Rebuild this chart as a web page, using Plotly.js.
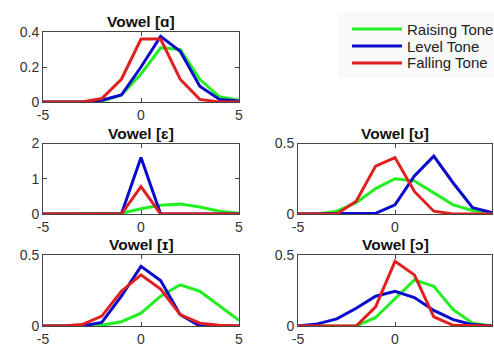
<!DOCTYPE html>
<html>
<head>
<meta charset="utf-8">
<script src="https://cdn.plot.ly/plotly-3.0.1.min.js"></script>
<style>html,body{margin:0;padding:0;background:#fff;}#chart{width:494px;height:348px;}</style>
</head>
<body>
<div id="chart"></div>
<script>
const xs = [-5,-4,-3,-2,-1,0,1,2,3,4,5];
const seriesNames = ["Raising Tone","Level Tone","Falling Tone"];
const seriesColors = ["#22ee22","#0a0acc","#e02020"];
const panelTitles = ["Vowel [ɑ]","Vowel [ɛ]","Vowel [ʊ]","Vowel [ɪ]","Vowel [ɔ]"];

// Vowel [ɑ]
const a_rise = [0,0,0,0.005,0.04,0.16,0.31,0.30,0.13,0.03,0.01];
const a_level = [0,0,0,0.01,0.04,0.20,0.375,0.29,0.09,0.015,0.005];
const a_fall = [0,0,0,0.02,0.13,0.36,0.36,0.13,0.015,0,0];
// Vowel [ɛ]
const e_rise = [0,0,0,0,0.02,0.15,0.25,0.28,0.2,0.08,0.02];
const e_level = [0,0,0,0,0,1.6,0,0,0,0,0];
const e_fall = [0,0,0,0,0,0.78,0,0,0,0,0];
// Vowel [ʊ]
const u_rise = [0,0,0.02,0.08,0.18,0.25,0.235,0.15,0.065,0.025,0.005];
const u_level = [0,0,0,0,0.005,0.065,0.27,0.41,0.22,0.045,0.01];
const u_fall = [0,0,0,0.09,0.34,0.40,0.16,0.02,0,0,0];
// Vowel [ɪ]
const i_rise = [0,0,0,0.005,0.03,0.09,0.21,0.29,0.245,0.14,0.04];
const i_level = [0,0,0,0.025,0.21,0.42,0.32,0.08,0,0,0];
const i_fall = [0,0,0.01,0.07,0.245,0.36,0.26,0.08,0.02,0.005,0];
// Vowel [ɔ]
const o_rise = [0,0,0,0,0.06,0.195,0.325,0.28,0.115,0.02,0];
const o_level = [0,0.015,0.05,0.125,0.21,0.245,0.2,0.11,0.045,0.01,0];
const o_fall = [0,0,0,0,0.135,0.455,0.36,0.065,0.005,0,0];

const panelData = [
  [a_rise,a_level,a_fall],
  [e_rise,e_level,e_fall],
  [u_rise,u_level,u_fall],
  [i_rise,i_level,i_fall],
  [o_rise,o_level,o_fall]
];
const yRanges = [[0,0.4],[0,2],[0,0.5],[0,0.5],[0,0.5]];
const yTicks = [[0,0.2,0.4],[0,1,2],[0,0.5],[0,0.5],[0,0.5]];
const xTicks = [-5,0,5];

const W=494,H=348;
// pixel boxes [left,right,top,bottom]
const boxes = [
  [43,239,32,102],
  [43,239,143.5,214],
  [298,492,143.5,214],
  [43,239,255,326],
  [298,492,255,326]
];

const traces=[];
const layout={
  width:W,height:H,
  margin:{l:0,r:0,t:0,b:0},
  paper_bgcolor:'#fff',plot_bgcolor:'#fff',
  font:{family:'"Liberation Sans", Arial, sans-serif',size:14,color:'#333'},
  showlegend:false,
  annotations:[],
  shapes:[]
};
panelData.forEach((ser,p)=>{
  const n=p+1;
  const sfx = n===1?'':String(n);
  const b=boxes[p];
  ser.forEach((ys,s)=>{
    traces.push({x:xs,y:ys,type:'scatter',mode:'lines',
      xaxis:'x'+sfx,yaxis:'y'+sfx,
      name:seriesNames[s],
      line:{color:seriesColors[s],width:3}});
  });
  layout['xaxis'+sfx]={domain:[b[0]/W,b[1]/W],range:[-5,5],tickvals:xTicks,ticktext:xTicks.map(String),
    showgrid:false,zeroline:false,showline:true,mirror:'ticks',linecolor:'#444',linewidth:1,
    ticks:'inside',ticklen:4,tickcolor:'#444',anchor:'y'+sfx,
    tickfont:{size:14,color:'#333'}};
  layout['yaxis'+sfx]={domain:[1-b[3]/H,1-b[2]/H],range:yRanges[p],tickvals:yTicks[p],ticktext:yTicks[p].map(String),
    showgrid:false,zeroline:false,showline:true,mirror:'ticks',linecolor:'#444',linewidth:1,
    ticks:'inside',ticklen:4,tickcolor:'#444',anchor:'x'+sfx,
    tickfont:{size:14,color:'#333'}};
  layout.annotations.push({text:'<b>'+panelTitles[p]+'</b>',xref:'paper',yref:'paper',
    x:(b[0]+b[1])/2/W,y:1-(b[2]-1)/H,xanchor:'center',yanchor:'bottom',showarrow:false,
    borderpad:0,font:{size:15.5,color:'#111'}});
});

// custom legend (box, line samples, labels)
const lg = {left:338,right:494,top:12,bottom:78,lineX0:352,lineX1:402,textX:406,rows:[29,46,63]};
layout.shapes.push({type:'rect',xref:'paper',yref:'paper',
  x0:lg.left/W,x1:lg.right/W,y0:1-lg.bottom/H,y1:1-lg.top/H,
  fillcolor:'#f9f9f9',line:{width:0},layer:'below'});
seriesNames.forEach((nm,s)=>{
  const yy=1-lg.rows[s]/H;
  layout.shapes.push({type:'line',xref:'paper',yref:'paper',
    x0:lg.lineX0/W,x1:lg.lineX1/W,y0:yy,y1:yy,line:{color:seriesColors[s],width:3}});
  layout.annotations.push({text:nm,xref:'paper',yref:'paper',x:lg.textX/W,y:yy,
    xanchor:'left',yanchor:'middle',showarrow:false,borderpad:0,
    font:{size:15,color:'#222'}});
});
Plotly.newPlot('chart',traces,layout,{displayModeBar:false,staticPlot:true});
</script>
</body>
</html>
